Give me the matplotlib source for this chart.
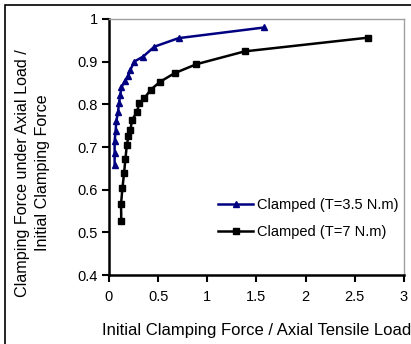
import matplotlib
matplotlib.use("Agg")
import matplotlib.pyplot as plt
from matplotlib.patches import Rectangle

plt.rcParams['font.family'] = ['Liberation Sans', 'DejaVu Sans']

x_t35 = [0.058, 0.058, 0.058, 0.068, 0.075, 0.092, 0.103, 0.116, 0.127, 0.161, 0.195, 0.219, 0.257, 0.349, 0.462, 0.708, 1.58]
y_t35 = [0.658, 0.686, 0.714, 0.737, 0.760, 0.781, 0.803, 0.823, 0.840, 0.854, 0.867, 0.881, 0.900, 0.912, 0.935, 0.955, 0.980]

x_t7 = [0.126, 0.123, 0.137, 0.154, 0.168, 0.182, 0.198, 0.219, 0.236, 0.285, 0.308, 0.360, 0.424, 0.521, 0.668, 0.89, 1.38, 2.63]
y_t7 = [0.527, 0.566, 0.603, 0.639, 0.673, 0.704, 0.725, 0.741, 0.764, 0.782, 0.802, 0.814, 0.834, 0.853, 0.873, 0.894, 0.924, 0.956]

labels = ['Clamped (T=3.5 N.m)', 'Clamped (T=7 N.m)']
xticks = [0, 0.5, 1, 1.5, 2, 2.5, 3]
yticks = [0.4, 0.5, 0.6, 0.7, 0.8, 0.9, 1]

fig = plt.figure(figsize=(4.11, 3.44), dpi=100)
ax = fig.add_axes([0.265, 0.200, 0.718, 0.745])

ax.plot(x_t35, y_t35, color='#000080', lw=1.8, marker='^', ms=4.5, label=labels[0])
ax.plot(x_t7, y_t7, color='black', lw=1.8, marker='s', ms=3.8, label=labels[1])

ax.set_xlim(0, 3)
ax.set_ylim(0.4, 1)
ax.set_xticks(xticks)
ax.set_xticklabels(['0', '0.5', '1', '1.5', '2', '2.5', '3'])
ax.set_yticks(yticks)
ax.set_yticklabels(['0.4', '0.5', '0.6', '0.7', '0.8', '0.9', '1'])
ax.tick_params(direction='out', length=5, width=1.5, labelsize=10.5)
ax.tick_params(axis='x', pad=6)
ax.tick_params(axis='y', pad=3)

for s in ['left', 'bottom']:
    ax.spines[s].set_linewidth(1.8)
    ax.spines[s].set_color('black')
for s in ['top', 'right']:
    ax.spines[s].set_linewidth(1.0)
    ax.spines[s].set_color('#a0a0a0')

ax.set_xlabel('Initial Clamping Force / Axial Tensile Load', fontsize=12, labelpad=13)
fig.text(0.054, 0.497, 'Clamping Force under Axial Load /', rotation=90, ha='center', va='center', fontsize=11.6)
fig.text(0.103, 0.497, 'Initial Clamping Force', rotation=90, ha='center', va='center', fontsize=11.6)

ax.legend(loc='upper left', bbox_to_anchor=(0.37, 0.30), frameon=False, fontsize=10.5,
          handlelength=2.4, handletextpad=0.3, labelspacing=0.9, borderpad=0, borderaxespad=0)

fig.patches.append(Rectangle((0.012, -0.1), 1.2, 0.0855 + 1.0, transform=fig.transFigure,
                             fill=False, edgecolor='black', lw=1.2))

fig.savefig('out.png', dpi=100)
